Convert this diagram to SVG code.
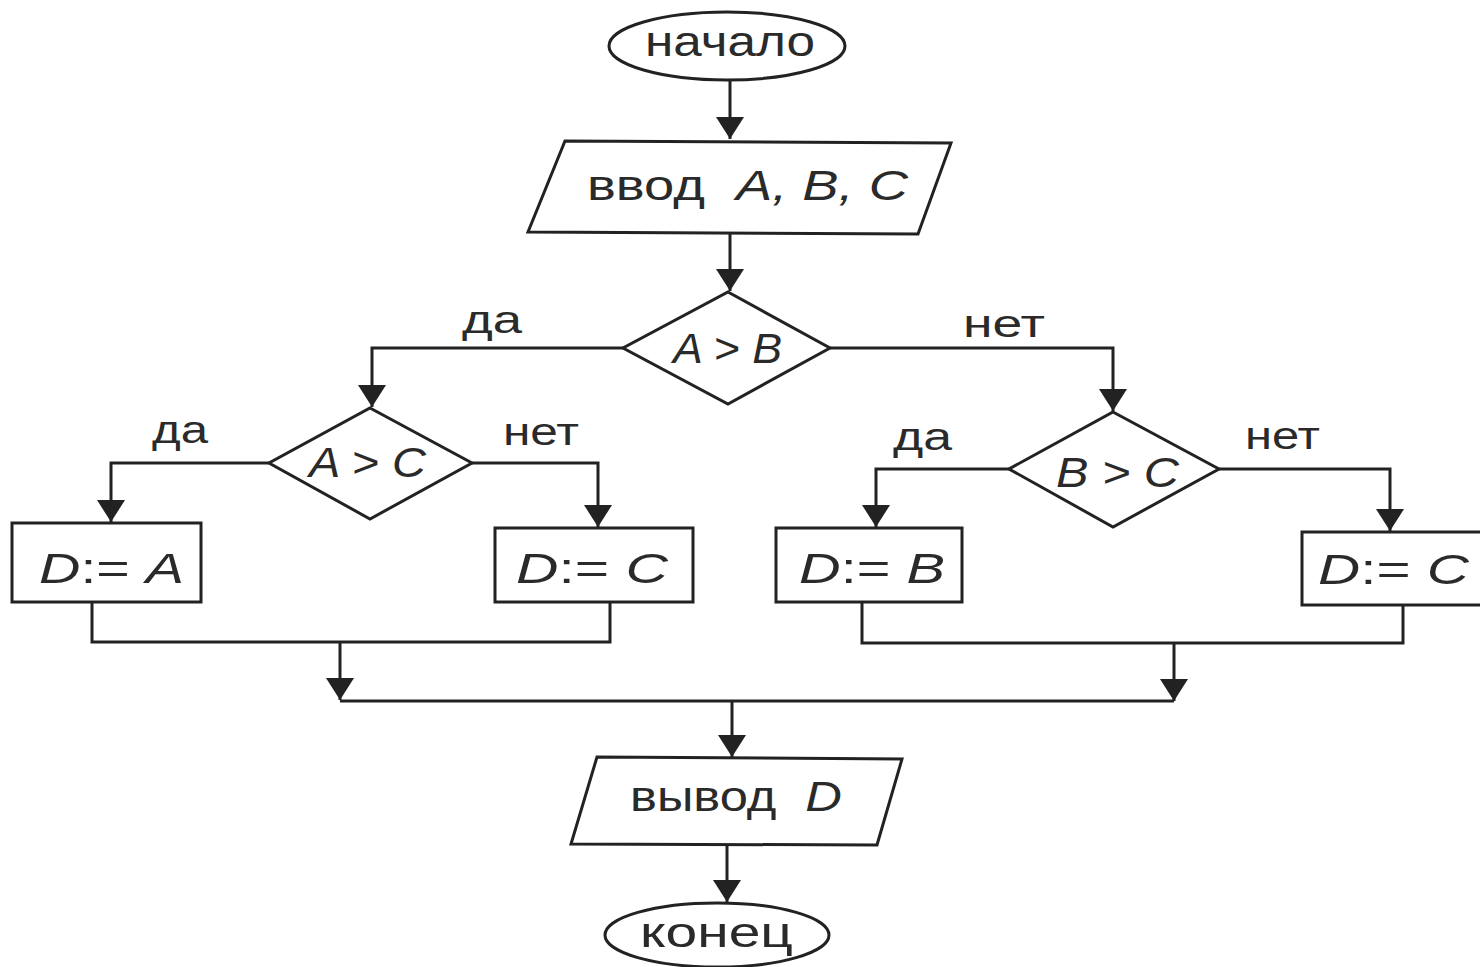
<svg xmlns="http://www.w3.org/2000/svg" width="1480" height="967" viewBox="0 0 1480 967">
<defs>
<marker id="arr" markerUnits="userSpaceOnUse" markerWidth="22" markerHeight="28" refX="22" refY="14" orient="auto">
<path d="M0,0 L22,14 L0,28 z" fill="#222"/>
</marker>
<style>
.sh{fill:#fff;stroke:#222;stroke-width:3;stroke-linejoin:miter}
.ln{fill:none;stroke:#222;stroke-width:3}
.ar{marker-end:url(#arr)}
.t{font-family:"Liberation Sans",Arial,sans-serif;fill:#2a2a2a;font-size:42px}
.lb{font-family:"Liberation Sans",Arial,sans-serif;fill:#2a2a2a;font-size:38px}
.i{font-style:italic}
</style>
</defs>
<rect width="1480" height="967" fill="#fff"/>
<g id="connectors">
<path class="ln ar" d="M730,80 V139"/>
<path class="ln ar" d="M730,234 V291"/>
<path class="ln ar" d="M623,348 H372 V407"/>
<path class="ln ar" d="M830,348 H1113 V411"/>
<path class="ln ar" d="M269,463 H111 V522"/>
<path class="ln ar" d="M472,463 H598 V527"/>
<path class="ln ar" d="M1009,469 H876 V527"/>
<path class="ln ar" d="M1219,469 H1390 V531"/>
<path class="ln" d="M92,602 V642 H610 V602"/>
<path class="ln ar" d="M340,642 V700"/>
<path class="ln" d="M862,602 V643 H1403 V605"/>
<path class="ln ar" d="M1174,643 V701"/>
<path class="ln" d="M340,701 H1174"/>
<path class="ln ar" d="M732,701 V757"/>
<path class="ln ar" d="M727,845 V902"/>
<text class="lb" x="462" y="333" textLength="60" lengthAdjust="spacingAndGlyphs">да</text>
<text class="lb" x="963" y="337" textLength="82" lengthAdjust="spacingAndGlyphs">нет</text>
<text class="lb" x="152" y="443" textLength="56" lengthAdjust="spacingAndGlyphs">да</text>
<text class="lb" x="503" y="445" textLength="76" lengthAdjust="spacingAndGlyphs">нет</text>
<text class="lb" x="893" y="450" textLength="59" lengthAdjust="spacingAndGlyphs">да</text>
<text class="lb" x="1245" y="449" textLength="75" lengthAdjust="spacingAndGlyphs">нет</text>
</g>
<g id="start">
<ellipse class="sh" cx="727" cy="46" rx="118" ry="34"/>
<text class="t" x="645" y="56" textLength="170" lengthAdjust="spacingAndGlyphs">начало</text>
</g>
<g id="input">
<polygon class="sh" points="565,141 951,143 918,234 528,232"/>
<text class="t" x="587" y="200" textLength="321" lengthAdjust="spacingAndGlyphs">ввод<tspan class="i" dx="24">A, B, C</tspan></text>
</g>
<g id="cond-ab">
<polygon class="sh" points="728,292 830,348 728,404 623,348"/>
<text class="t i" x="673" y="363" textLength="109" lengthAdjust="spacingAndGlyphs">A &gt; B</text>
</g>
<g id="cond-ac">
<polygon class="sh" points="370,408 472,463 370,519 269,463"/>
<text class="t i" x="309" y="477" textLength="117" lengthAdjust="spacingAndGlyphs">A &gt; C</text>
</g>
<g id="cond-bc">
<polygon class="sh" points="1113,412 1219,469 1113,527 1009,469"/>
<text class="t i" x="1056" y="487" textLength="123" lengthAdjust="spacingAndGlyphs">B &gt; C</text>
</g>
<g id="d-a">
<rect class="sh" x="12" y="523" width="189" height="79"/>
<text class="t" x="39" y="583" textLength="145" lengthAdjust="spacingAndGlyphs"><tspan class="i">D</tspan>:= <tspan class="i">A</tspan></text>
</g>
<g id="d-c1">
<rect class="sh" x="495" y="528" width="198" height="74"/>
<text class="t" x="516" y="583" textLength="152" lengthAdjust="spacingAndGlyphs"><tspan class="i">D</tspan>:= <tspan class="i">C</tspan></text>
</g>
<g id="d-b">
<rect class="sh" x="776" y="528" width="186" height="74"/>
<text class="t" x="799" y="583" textLength="146" lengthAdjust="spacingAndGlyphs"><tspan class="i">D</tspan>:= <tspan class="i">B</tspan></text>
</g>
<g id="d-c2">
<rect class="sh" x="1302" y="532" width="190" height="73"/>
<text class="t" x="1318" y="584" textLength="151" lengthAdjust="spacingAndGlyphs"><tspan class="i">D</tspan>:= <tspan class="i">C</tspan></text>
</g>
<g id="output">
<polygon class="sh" points="597,757 902,759 877,845 571,844"/>
<text class="t" x="630" y="811" textLength="212" lengthAdjust="spacingAndGlyphs">вывод<tspan class="i" dx="24">D</tspan></text>
</g>
<g id="end">
<ellipse class="sh" cx="717" cy="935" rx="112" ry="32"/>
<text class="t" x="640" y="947" textLength="153" lengthAdjust="spacingAndGlyphs">конец</text>
</g>
</svg>
